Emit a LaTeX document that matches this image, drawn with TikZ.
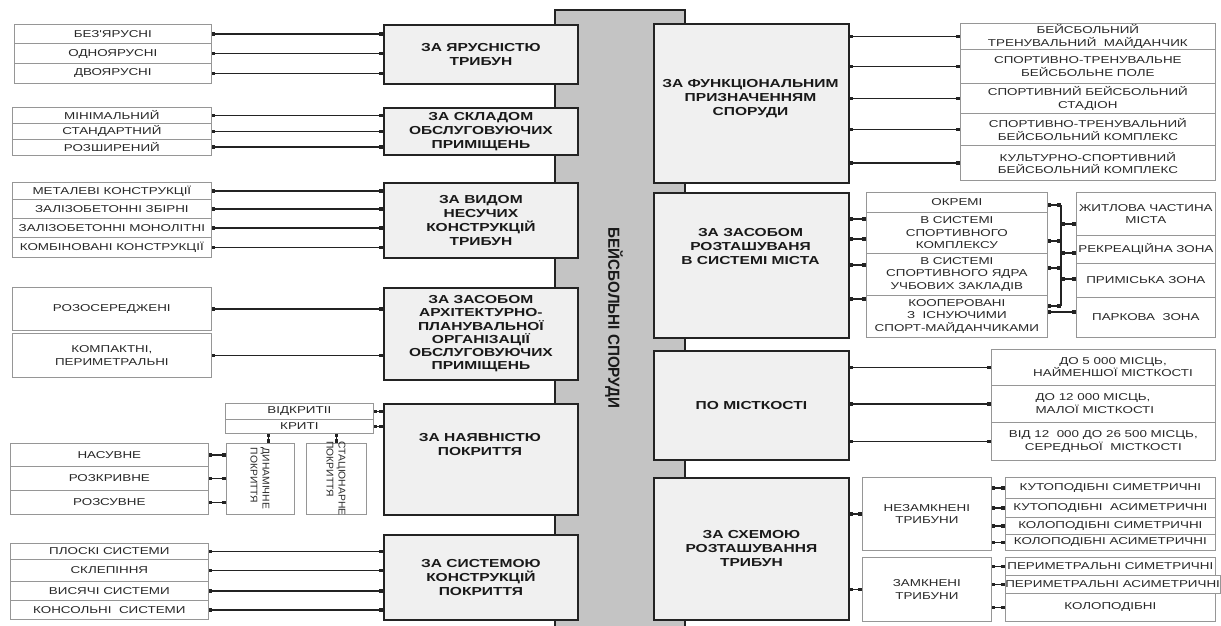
\documentclass[tikz,border=0pt]{standalone}
\usepackage{fontspec}
\usetikzlibrary{arrows.meta,calc}
\setmainfont{Liberation Sans}
\newfontfamily\wf[FakeStretch=1.34]{Liberation Sans}
\newfontfamily\wfr[FakeStretch=1.05]{Liberation Sans}
\newfontfamily\wft[FakeStretch=0.95]{Liberation Sans}
\definecolor{dk}{RGB}{35,35,35}
\definecolor{barfill}{RGB}{196,196,196}
\definecolor{boxfill}{RGB}{240,240,240}
\definecolor{itemline}{RGB}{150,150,150}
\definecolor{txtd}{RGB}{25,25,25}
\definecolor{txtn}{RGB}{40,40,40}
\begin{document}
\begin{tikzpicture}[x=1pt,y=-1pt,
  mainbox/.style={draw=dk,line width=1.8pt,fill=boxfill,inner sep=0pt,anchor=north west,align=center,text=txtd,font=\wf\bfseries\fontsize{11.6}{14}\selectfont},
  item/.style={draw=itemline,line width=0.7pt,fill=white,inner sep=0pt,anchor=north west,align=center,text=txtn,font=\wf\fontsize{10}{12.5}\selectfont},
  conn/.style={draw=dk,line width=1.3pt,arrows={Square[length=3.6pt,width=3.6pt]-Square[length=3.6pt,width=3.6pt]}},
  bus/.style={draw=dk,line width=1.3pt},
  bartitle/.style={rotate=-90,text=txtd,font=\wft\bfseries\fontsize{16}{16}\selectfont},
  vtext/.style={rotate=-90,align=left,text=txtn,font=\wfr\fontsize{9.8}{12}\selectfont}]
\useasboundingbox[fill=white] (0,0) rectangle (1221,626);

% central bar
\node[draw=dk,line width=1.8pt,fill=barfill,inner sep=0pt,anchor=north west,minimum width=130pt,minimum height=625pt] (bar) at (554,9) {};

% ---------------- LEFT MAIN BOXES ----------------
\node[mainbox,minimum width=194pt,minimum height=59pt] (L1) at (383,24) {ЗА ЯРУСНІСТЮ\\ТРИБУН};
\node[mainbox,minimum width=194pt,minimum height=47pt] (L2) at (383,107) {ЗА СКЛАДОМ\\ОБСЛУГОВУЮЧИХ\\ПРИМІЩЕНЬ};
\node[mainbox,minimum width=194pt,minimum height=75pt] (L3) at (383,182) {ЗА ВИДОМ\\НЕСУЧИХ\\КОНСТРУКЦІЙ\\ТРИБУН};
\node[mainbox,minimum width=194pt,minimum height=92pt,font=\wf\bfseries\fontsize{11.6}{13.2}\selectfont] (L4) at (383,287) {ЗА ЗАСОБОМ\\АРХІТЕКТУРНО-\\ПЛАНУВАЛЬНОЇ\\ОРГАНІЗАЦІЇ\\ОБСЛУГОВУЮЧИХ\\ПРИМІЩЕНЬ};
\node[mainbox,minimum width=194pt,minimum height=111pt] (L5) at (383,403) {};
\node[align=center,text=txtd,font=\wf\bfseries\fontsize{11.6}{14}\selectfont] (L5t) at (480,445) {ЗА НАЯВНІСТЮ\\ПОКРИТТЯ};
\node[mainbox,minimum width=194pt,minimum height=85pt] (L6) at (383,534) {ЗА СИСТЕМОЮ\\КОНСТРУКЦІЙ\\ПОКРИТТЯ};

% ---------------- RIGHT MAIN BOXES ----------------
\node[mainbox,minimum width=195pt,minimum height=159pt] (R1) at (653,23) {};
\node[align=center,text=txtd,font=\wf\bfseries\fontsize{11.6}{14}\selectfont] (R1t) at (750.5,99) {ЗА ФУНКЦІОНАЛЬНИМ\\ПРИЗНАЧЕННЯМ\\СПОРУДИ};
\node[mainbox,minimum width=195pt,minimum height=145pt] (R2) at (653,192) {};
\node[align=center,text=txtd,font=\wf\bfseries\fontsize{11.6}{14}\selectfont] (R2t) at (750.5,247) {ЗА ЗАСОБОМ\\РОЗТАШУВАНЯ\\В СИСТЕМІ МІСТА};
\node[mainbox,minimum width=195pt,minimum height=109pt] (R3) at (653,350) {ПО МІСТКОСТІ};
\node[mainbox,minimum width=195pt,minimum height=142pt] (R4) at (653,477) {ЗА СХЕМОЮ\\РОЗТАШУВАННЯ\\ТРИБУН};

\node[bartitle] (title) at (614,318) {БЕЙСБОЛЬНІ СПОРУДИ};

% ---------------- L1 items ----------------
\node[item,minimum width=197pt,minimum height=19.5pt] (L1a) at (14,24) {БЕЗ'ЯРУСНІ};
\node[item,minimum width=197pt,minimum height=19.5pt] (L1b) at (14,43.5) {ОДНОЯРУСНІ};
\node[item,minimum width=197pt,minimum height=20pt] (L1c) at (14,63) {ДВОЯРУСНІ};
\foreach \n in {L1a,L1b,L1c} \draw[conn] (\n.east) -- (\n.east -| L1.west);

% ---------------- L2 items ----------------
\node[item,minimum width=199pt,minimum height=16pt] (L2a) at (12,107) {МІНІМАЛЬНИЙ};
\node[item,minimum width=199pt,minimum height=16pt] (L2b) at (12,123) {СТАНДАРТНИЙ};
\node[item,minimum width=199pt,minimum height=15.5pt] (L2c) at (12,139) {РОЗШИРЕНИЙ};
\foreach \n in {L2a,L2b,L2c} \draw[conn] (\n.east) -- (\n.east -| L2.west);

% ---------------- L3 items ----------------
\node[item,minimum width=199pt,minimum height=17pt] (L3a) at (12,182) {МЕТАЛЕВІ КОНСТРУКЦІЇ};
\node[item,minimum width=199pt,minimum height=19pt] (L3b) at (12,199) {ЗАЛІЗОБЕТОННІ ЗБІРНІ};
\node[item,minimum width=199pt,minimum height=19pt] (L3c) at (12,218) {ЗАЛІЗОБЕТОННІ МОНОЛІТНІ};
\node[item,minimum width=199pt,minimum height=20pt] (L3d) at (12,237) {КОМБІНОВАНІ КОНСТРУКЦІЇ};
\foreach \n in {L3a,L3b,L3c,L3d} \draw[conn] (\n.east) -- (\n.east -| L3.west);

% ---------------- L4 items ----------------
\node[item,minimum width=199pt,minimum height=43pt] (L4a) at (12,287) {РОЗОСЕРЕДЖЕНІ};
\node[item,minimum width=199pt,minimum height=44pt] (L4b) at (12,333) {КОМПАКТНІ,\\ПЕРИМЕТРАЛЬНІ};
\foreach \n in {L4a,L4b} \draw[conn] (\n.east) -- (\n.east -| L4.west);

% ---------------- L5 items ----------------
\node[item,minimum width=148pt,minimum height=16pt] (VK) at (225,403) {ВІДКРИТІІ};
\node[item,minimum width=148pt,minimum height=14pt] (KR) at (225,419) {КРИТІ};
\foreach \n in {VK,KR} \draw[conn] (\n.east) -- (\n.east -| L5.west);
\node[item,minimum width=68pt,minimum height=71pt] (DYN) at (226,443) {};
\node[vtext] (DYNt) at (260,478.5) {ДИНАМІЧНЕ\\ПОКРИТТЯ};
\node[item,minimum width=60pt,minimum height=71pt] (ST) at (306,443) {};
\node[vtext] (STt) at (336,478.5) {СТАЦІОНАРНЕ\\ПОКРИТТЯ};
\coordinate (dynT) at ($(DYN.north)+(8,0)$);
\draw[conn] (dynT |- KR.south) -- (dynT);
\draw[conn] (ST.north |- KR.south) -- (ST.north);
\node[item,minimum width=198pt,minimum height=23pt] (Na) at (10,443) {НАСУВНЕ};
\node[item,minimum width=198pt,minimum height=24pt] (Nb) at (10,466) {РОЗКРИВНЕ};
\node[item,minimum width=198pt,minimum height=24pt] (Nc) at (10,490) {РОЗСУВНЕ};
\foreach \n in {Na,Nb,Nc} \draw[conn] (\n.east) -- (\n.east -| DYN.west);

% ---------------- L6 items ----------------
\node[item,minimum width=198pt,minimum height=16pt] (L6a) at (10,543) {ПЛОСКІ СИСТЕМИ};
\node[item,minimum width=198pt,minimum height=22pt] (L6b) at (10,559) {СКЛЕПІННЯ};
\node[item,minimum width=198pt,minimum height=19pt] (L6c) at (10,581) {ВИСЯЧІ СИСТЕМИ};
\node[item,minimum width=198pt,minimum height=19pt] (L6d) at (10,600) {КОНСОЛЬНІ\ \ СИСТЕМИ};
\foreach \n in {L6a,L6b,L6c,L6d} \draw[conn] (\n.east) -- (\n.east -| L6.west);

% ---------------- R1 items ----------------
\node[item,minimum width=255pt,minimum height=26pt] (R1a) at (960,23) {БЕЙСБОЛЬНИЙ\\ТРЕНУВАЛЬНИЙ\ \ МАЙДАНЧИК};
\node[item,minimum width=255pt,minimum height=34pt] (R1b) at (960,49) {СПОРТИВНО-ТРЕНУВАЛЬНЕ\\БЕЙСБОЛЬНЕ ПОЛЕ};
\node[item,minimum width=255pt,minimum height=30pt] (R1c) at (960,83) {СПОРТИВНИЙ БЕЙСБОЛЬНИЙ\\СТАДІОН};
\node[item,minimum width=255pt,minimum height=32pt] (R1d) at (960,113) {СПОРТИВНО-ТРЕНУВАЛЬНИЙ\\БЕЙСБОЛЬНИЙ КОМПЛЕКС};
\node[item,minimum width=255pt,minimum height=35pt] (R1e) at (960,145) {КУЛЬТУРНО-СПОРТИВНИЙ\\БЕЙСБОЛЬНИЙ КОМПЛЕКС};
\foreach \n in {R1a,R1b,R1c,R1d,R1e} \draw[conn] (\n.west -| R1.east) -- (\n.west);

% ---------------- R2 items ----------------
\node[item,minimum width=181pt,minimum height=20pt] (R2a1) at (866,192) {ОКРЕМІ};
\node[item,minimum width=181pt,minimum height=41pt] (R2a2) at (866,212) {В СИСТЕМІ\\СПОРТИВНОГО\\КОМПЛЕКСУ};
\node[item,minimum width=181pt,minimum height=42pt] (R2a3) at (866,253) {В СИСТЕМІ\\СПОРТИВНОГО ЯДРА\\УЧБОВИХ ЗАКЛАДІВ};
\node[item,minimum width=181pt,minimum height=42pt] (R2a4) at (866,295) {КООПЕРОВАНІ\\З\ \ ІСНУЮЧИМИ\\СПОРТ-МАЙДАНЧИКАМИ};
\node[item,minimum width=139pt,minimum height=43pt] (R2b1) at (1076,192) {ЖИТЛОВА ЧАСТИНА\\МІСТА};
\node[item,minimum width=139pt,minimum height=28pt] (R2b2) at (1076,235) {РЕКРЕАЦІЙНА ЗОНА};
\node[item,minimum width=139pt,minimum height=34pt] (R2b3) at (1076,263) {ПРИМІСЬКА ЗОНА};
\node[item,minimum width=139pt,minimum height=40pt] (R2b4) at (1076,297) {ПАРКОВА\ \ ЗОНА};
\coordinate (q1) at (0,219); \coordinate (q2) at (0,239);
\coordinate (q3) at (0,265); \coordinate (q4) at (0,299);
\draw[conn] (R2.east |- q1) -- (R2a2.west |- q1);
\draw[conn] (R2.east |- q2) -- (R2a2.west |- q2);
\draw[conn] (R2.east |- q3) -- (R2a3.west |- q3);
\draw[conn] (R2.east |- q4) -- (R2a4.west |- q4);
\coordinate (busx) at (1061,0);
\coordinate (b1) at (0,205); \coordinate (b2) at (0,241);
\coordinate (b3) at (0,268); \coordinate (b4) at (0,306);
\coordinate (c1) at (0,224); \coordinate (c2) at (0,253);
\coordinate (c3) at (0,279); \coordinate (pk) at (0,312);
\draw[bus] (busx |- b1) -- (busx |- b4);
\draw[conn] (R2a1.east |- b1) -- (busx |- b1);
\draw[conn] (R2a2.east |- b2) -- (busx |- b2);
\draw[conn] (R2a3.east |- b3) -- (busx |- b3);
\draw[conn] (R2a4.east |- b4) -- (busx |- b4);
\draw[conn] (busx |- c1) -- (R2b1.west |- c1);
\draw[conn] (busx |- c2) -- (R2b2.west |- c2);
\draw[conn] (busx |- c3) -- (R2b3.west |- c3);
\draw[conn] (R2a4.east |- pk) -- (R2b4.west |- pk);

% ---------------- R3 items ----------------
\node[item,minimum width=224pt,minimum height=36pt] (R3a) at (991,349) {};
\node[align=center,text=txtn,font=\wf\fontsize{10}{12.5}\selectfont] (R3at) at (1113,367) {ДО 5 000 МІСЦЬ,\\НАЙМЕНШОЇ МІСТКОСТІ};
\node[item,minimum width=224pt,minimum height=37pt] (R3b) at (991,385) {};
\node[align=left,anchor=west,text=txtn,font=\wf\fontsize{10}{12.5}\selectfont] (R3bt) at (1032,403.5) {ДО 12 000 МІСЦЬ,\\МАЛОЇ МІСТКОСТІ};
\node[item,minimum width=224pt,minimum height=38pt] (R3c) at (991,422) {ВІД 12\ \ 000 ДО 26 500 МІСЦЬ,\\СЕРЕДНЬОЇ\ \ МІСТКОСТІ};
\foreach \n in {R3a,R3b,R3c} \draw[conn] (\n.west -| R3.east) -- (\n.west);

% ---------------- R4 items ----------------
\node[item,minimum width=129pt,minimum height=73pt] (NZ) at (862,477) {НЕЗАМКНЕНІ\\ТРИБУНИ};
\node[item,minimum width=129pt,minimum height=64pt] (ZM) at (862,557) {ЗАМКНЕНІ\\ТРИБУНИ};
\foreach \n in {NZ,ZM} \draw[conn] (\n.west -| R4.east) -- (\n.west);
\node[item,minimum width=210pt,minimum height=21pt] (NZa) at (1005,477) {КУТОПОДІБНІ СИМЕТРИЧНІ};
\node[item,minimum width=210pt,minimum height=19pt] (NZb) at (1005,498) {КУТОПОДІБНІ\ \ АСИМЕТРИЧНІ};
\node[item,minimum width=210pt,minimum height=17pt] (NZc) at (1005,517) {КОЛОПОДІБНІ СИМЕТРИЧНІ};
\node[item,minimum width=210pt,minimum height=16pt] (NZd) at (1005,534) {КОЛОПОДІБНІ АСИМЕТРИЧНІ};
\foreach \n in {NZa,NZb,NZc,NZd} \draw[conn] (\n.west -| NZ.east) -- (\n.west);
\node[item,minimum width=210pt,minimum height=18pt] (ZMa) at (1005,557) {ПЕРИМЕТРАЛЬНІ СИМЕТРИЧНІ};
\node[item,minimum width=210pt,minimum height=18pt] (ZMb) at (1005,575) {ПЕРИМЕТРАЛЬНІ АСИМЕТРИЧНІ};
\node[item,minimum width=210pt,minimum height=28pt] (ZMc) at (1005,593) {КОЛОПОДІБНІ};
\foreach \n in {ZMa,ZMb,ZMc} \draw[conn] (\n.west -| ZM.east) -- (\n.west);
\end{tikzpicture}
\end{document}
